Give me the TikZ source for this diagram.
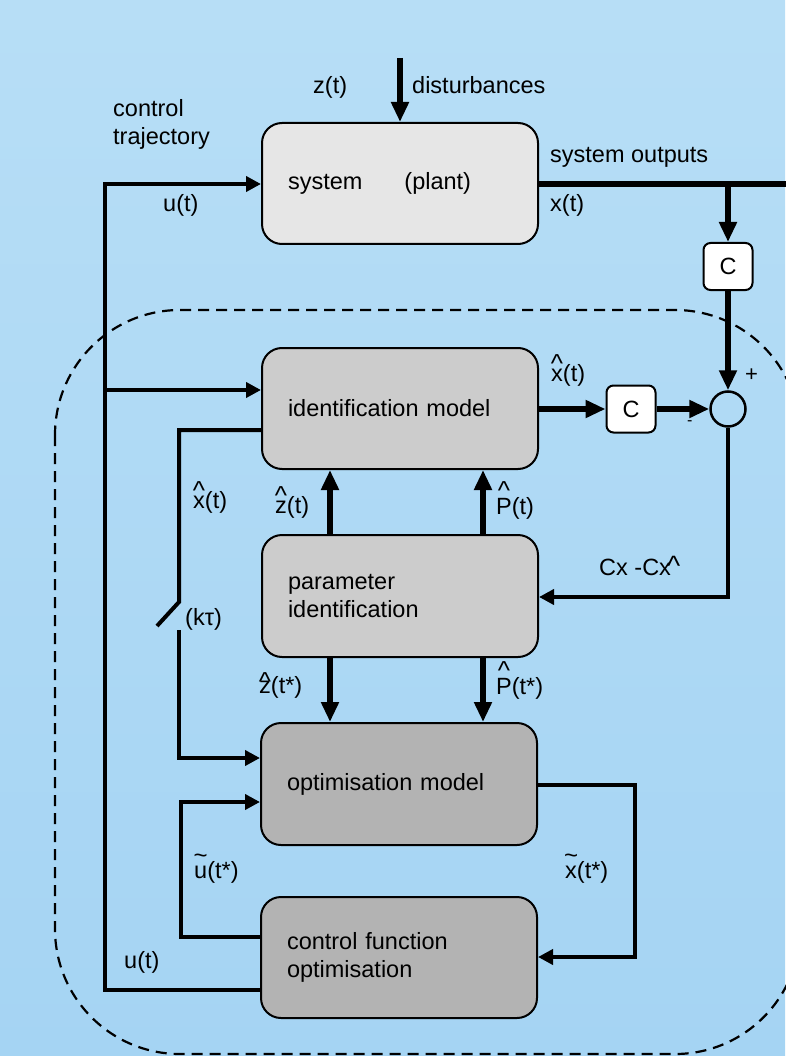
\documentclass[tikz,border=0pt]{standalone}
\usepackage{fontspec}
\setmainfont{Liberation Sans}
\usetikzlibrary{arrows.meta}
\definecolor{bgtop}{RGB}{183,222,246}
\definecolor{bgbot}{RGB}{165,212,243}
\definecolor{sysfill}{RGB}{230,230,230}
\definecolor{idfill}{RGB}{204,204,204}
\definecolor{optfill}{RGB}{179,179,179}
\newcommand\hatted[2]{\leavevmode\setbox0\hbox{#1}\rlap{\makebox[\wd0][c]{\raisebox{#2}{\fontsize{26}{26}\selectfont\textasciicircum}}}\box0}
\newcommand\tilded[2]{\leavevmode\setbox0\hbox{#1}\rlap{\makebox[\wd0][c]{\raisebox{#2}{\fontsize{24}{24}\selectfont\textasciitilde}}}\box0}
\begin{document}
\begin{tikzpicture}[x=1pt,y=-1pt,
  font=\fontsize{23.5}{28}\selectfont,
  box/.style={draw, line width=2pt, rounded corners=20pt, minimum width=276pt,
    minimum height=121pt, text width=224pt, align=left, inner xsep=26pt, inner ysep=0pt},
  cbox/.style={draw, line width=2pt, fill=white, rounded corners=7pt,
    minimum width=49pt, minimum height=47pt, inner sep=0pt},
  thk/.style={line width=6pt},
  thkarr/.style={line width=6pt, -{Triangle[length=20pt,width=17pt]}},
  med/.style={line width=4.5pt},
  medarr/.style={line width=4.5pt, -{Triangle[length=15pt,width=15pt]}},
  lbl/.style={inner sep=0pt, anchor=base west}
]
\fill[top color=bgtop, bottom color=bgbot] (0,0) rectangle (785,1056);
\useasboundingbox (0,0) rectangle (785,1056);

% dashed region
\draw[line width=2.2pt, dash pattern=on 11pt off 7pt, rounded corners=125pt] (55,310) rectangle (800,1054);

% boxes
\node[box, fill=sysfill] (sys) at (400,183.5) {system\hspace{42pt}(plant)};
\node[box, fill=idfill] (ident) at (400,408.5) {identification model};
\node[box, fill=idfill, minimum height=122pt] (param) at (400,596) {parameter\\identification};
\node[box, fill=optfill, minimum height=122pt] (opt) at (399,784) {optimisation model};
\node[box, fill=optfill] (ctrl) at (399,957.5) {control function\\optimisation};

\node[cbox] (c1) at (728,266.5) {C};
\node[cbox] (c2) at (631,409) {C};
\node[draw, circle, line width=2.5pt, minimum size=35pt, inner sep=0pt] (sum) at (728,409) {};

% coordinates
\coordinate (dtop) at (400,58);
\coordinate (outR) at (786,184);
\coordinate (br) at (728,184);
\coordinate (uTL) at (105,184);
\coordinate (uBL) at (105,990);
\coordinate (uBr) at (105,390);
\coordinate (fbC) at (728,597);
\coordinate (xlT) at (179,430);
\coordinate (swA) at (179,602);
\coordinate (swB) at (157,626);
\coordinate (swC) at (179,630);
\coordinate (xlB) at (179,758);
\coordinate (utB) at (181,937);
\coordinate (utT) at (181,802);
\coordinate (xtT) at (635,785);
\coordinate (xtB) at (635,957);
\coordinate (ax1) at (330,0);
\coordinate (ax2) at (483,0);

% connectors
\draw[thkarr] (dtop) -- (sys.north);
\draw[thk] (sys.east |- outR) -- (outR);
\draw[thkarr] (br) -- (c1.north);
\draw[thkarr] (c1.south) -- (sum.north);
\draw[thkarr] (ident.east |- c2) -- (c2.west);
\draw[thkarr] (c2.east) -- (sum.west);
\draw[medarr] (sum.south) -- (fbC) -- (param.east |- fbC);
\draw[medarr] (ctrl.west |- uBL) -- (uBL) -- (uTL) -- (sys.west |- uTL);
\draw[medarr] (uBr) -- (ident.west |- uBr);
\draw[thkarr] (param.north -| ax1) -- (ident.south -| ax1);
\draw[thkarr] (param.north -| ax2) -- (ident.south -| ax2);
\draw[thkarr] (param.south -| ax1) -- (opt.north -| ax1);
\draw[thkarr] (param.south -| ax2) -- (opt.north -| ax2);
\draw[line width=4pt] (ident.west |- xlT) -- (xlT) -- (swA) -- (swB);
\draw[medarr] (swC) -- (xlB) -- (opt.west |- xlB);
\draw[medarr] (ctrl.west |- utB) -- (utB) -- (utT) -- (opt.west |- utT);
\draw[medarr] (opt.east |- xtT) -- (xtT) -- (xtB) -- (ctrl.east |- xtB);

% labels
\node[lbl] (lz) at (313,94) {z(t)};
\node[lbl] (ldist) at (412,94) {disturbances};
\node[lbl] (lctrl1) at (113,117) {control};
\node[lbl] (lctrl2) at (113,145) {trajectory};
\node[lbl] (lsysout) at (550,163) {system outputs};
\node[lbl] (lu1) at (163,212) {u(t)};
\node[lbl] (lx) at (550,212) {x(t)};
\node[lbl] (lxh1) at (551,381) {\hatted{x}{9pt}(t)};
\node[lbl, font=\fontsize{22}{22}\selectfont] (lplus) at (745,381) {+};
\node[lbl, font=\fontsize{16}{16}\selectfont] (lminus) at (687,425) {-};
\node[lbl] (lxh2) at (193,508) {\hatted{x}{9pt}(t)};
\node[lbl] (lzh1) at (275,513) {\hatted{z}{9pt}(t)};
\node[lbl] (lph1) at (496,514) {\hatted{P}{15pt}(t)};
\node[lbl] (lfb) at (599,575) {Cx -Cx\hspace{-4pt}\raisebox{0pt}{\fontsize{28}{28}\selectfont\textasciicircum}};
\node[lbl] (lk) at (185,625) {(kτ)};
\node[lbl] (lzh2) at (259,693) {\hatted{z}{3pt}(t*)};
\node[lbl] (lph2) at (496,694) {\hatted{P}{15pt}(t*)};
\node[lbl] (lut) at (194,878) {\tilded{u}{15pt}(t*)};
\node[lbl] (lxt) at (565,878) {\tilded{x}{15pt}(t*)};
\node[lbl] (lu2) at (124,968) {u(t)};
\end{tikzpicture}
\end{document}
